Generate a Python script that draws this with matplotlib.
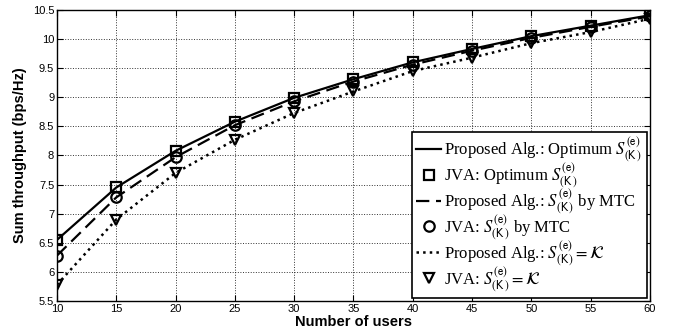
import matplotlib
matplotlib.use('Agg')
import matplotlib.pyplot as plt

users = [10, 15, 20, 25, 30, 35, 40, 45, 50, 55, 60]
optimum = [6.55, 7.45, 8.08, 8.58, 8.99, 9.31, 9.60, 9.83, 10.05, 10.23, 10.41]
mtc = [6.28, 7.28, 7.97, 8.52, 8.93, 9.27, 9.56, 9.80, 10.02, 10.21, 10.39]
full_set = [5.78, 6.90, 7.70, 8.27, 8.73, 9.10, 9.45, 9.68, 9.93, 10.12, 10.35]

x_ticks = [10, 15, 20, 25, 30, 35, 40, 45, 50, 55, 60]
y_ticks = [5.5, 6, 6.5, 7, 7.5, 8, 8.5, 9, 9.5, 10, 10.5]
y_tick_labels = ['5.5', '6', '6.5', '7', '7.5', '8', '8.5', '9', '9.5', '10', '10.5']

S = r'S^{\mathrm{\mathsf{(e)}}}_{\mathrm{\mathsf{(K\,)}}}'
labels = [
    'Proposed Alg.: Optimum $' + S + '$',
    'JVA: Optimum $' + S + '$',
    'Proposed Alg.: $' + S + '$ by MTC',
    'JVA: $' + S + '$ by MTC',
    'Proposed Alg.: $' + S + r' = \mathcal{K}$',
    'JVA: $' + S + r' = \mathcal{K}$',
]

plt.rcParams['mathtext.fontset'] = 'stix'
plt.rcParams['font.family'] = ['Liberation Sans', 'DejaVu Sans']

fig = plt.figure(figsize=(6.75, 3.31), dpi=100)
ax = fig.add_axes([0.0844, 0.0906, 0.8786, 0.8794])

mk = dict(linestyle='none', markerfacecolor='none', markeredgecolor='black',
          markeredgewidth=1.6, markersize=7.5)
ax.plot(users, optimum, '-', color='black', lw=1.6, label=labels[0])
ax.plot(users, optimum, marker='s', label=labels[1], **mk)
ax.plot(users, mtc, '--', color='black', lw=1.6, dashes=(6, 3), label=labels[2])
ax.plot(users, mtc, marker='o', label=labels[3], **mk)
ax.plot(users, full_set, ':', color='black', lw=1.8, label=labels[4])
ax.plot(users, full_set, marker='v', label=labels[5], **mk)

ax.set_xlim(10, 60)
ax.set_ylim(5.5, 10.5)
ax.set_xticks(x_ticks)
ax.set_yticks(y_ticks)
ax.set_yticklabels(y_tick_labels)
ax.tick_params(direction='in', labelsize=8, length=4, pad=2, top=True, right=True)
ax.grid(True, linestyle=':', color='black', lw=0.7, alpha=0.8)
for spine in ax.spines.values():
    spine.set_linewidth(1.0)

ax.set_xlabel('Number of users', fontsize=10.5, fontweight='bold', labelpad=1)
ax.set_ylabel('Sum throughput (bps/Hz)', fontsize=10.5, fontweight='bold', labelpad=4)

leg = ax.legend(loc='lower right', fancybox=False, edgecolor='black', framealpha=1,
                prop={'family': 'Liberation Serif', 'size': 12},
                handlelength=1.5, handletextpad=0.2, borderaxespad=0.2,
                labelspacing=-0.15, borderpad=0.25)
leg.get_frame().set_linewidth(1.2)

fig.savefig('out.png', dpi=100)
